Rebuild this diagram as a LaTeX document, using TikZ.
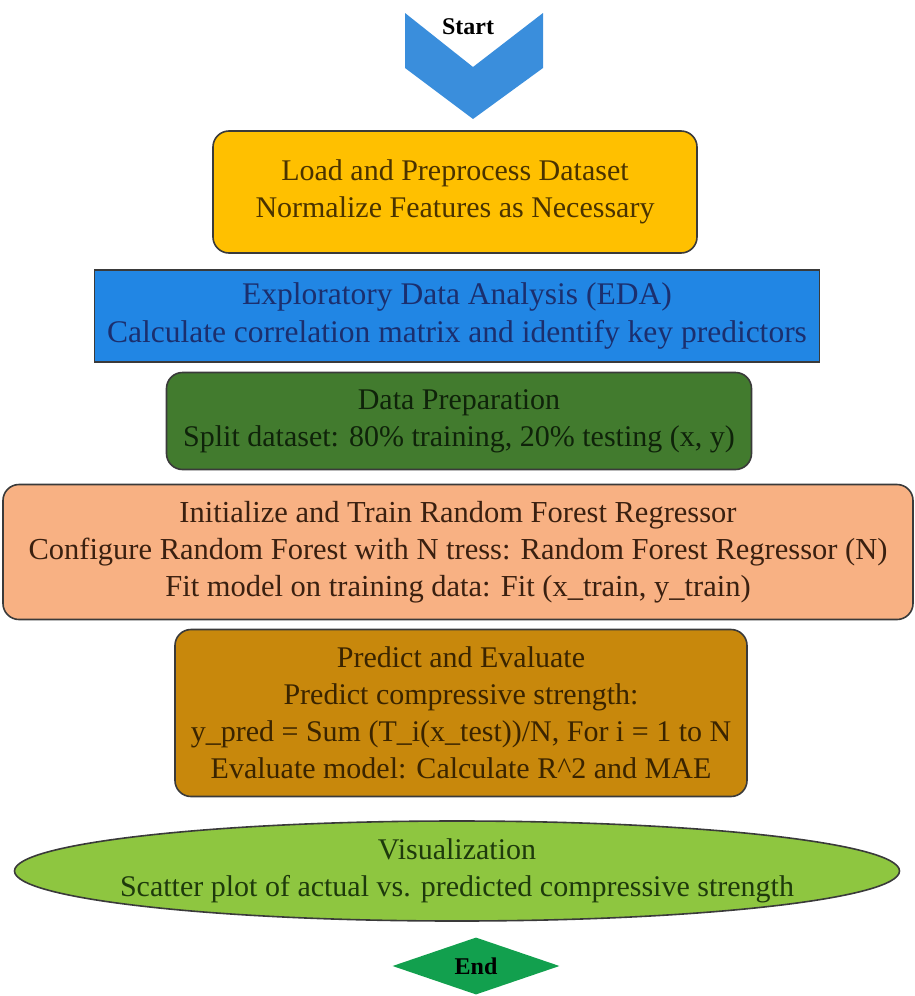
\documentclass[tikz,border=0pt]{standalone}
\usepackage{fontspec}
\setmainfont{Liberation Serif}
\usetikzlibrary{shapes.geometric}
\definecolor{cyel}{HTML}{FFC000}
\definecolor{cblue}{HTML}{2186E4}
\definecolor{cdkg}{HTML}{427B2E}
\definecolor{cpeach}{HTML}{F8B183}
\definecolor{cbrown}{HTML}{C8880C}
\definecolor{clgreen}{HTML}{8EC640}
\definecolor{cend}{HTML}{12A04E}
\definecolor{cchev}{HTML}{3A8EDC}
\definecolor{cline}{HTML}{3A3A3A}
\definecolor{tyel}{HTML}{4A3300}
\definecolor{tblue}{HTML}{1B2F6E}
\definecolor{tgreen}{HTML}{0F230A}
\definecolor{tpeach}{HTML}{3A2010}
\definecolor{tbrown}{HTML}{3A2400}
\definecolor{tlg}{HTML}{1E3A0C}
\tikzset{
  box/.style={draw=cline, line width=1.6pt, align=center, font=\fontsize{30}{37}\selectfont, inner sep=0pt},
  rbox/.style={box, rounded corners=16pt},
  label text/.style={align=center, font=\fontsize{30}{37}\selectfont, inner sep=0pt},
}
\begin{document}
\begin{tikzpicture}[x=1pt,y=-1pt]
\useasboundingbox (0,0) rectangle (914,996);
% Start chevron
\fill[cchev] (405,13) -- (473,67) -- (543,13) -- (543,68) -- (473,119) -- (405,68) -- cycle;
\node[font=\fontsize{24}{26}\selectfont\bfseries] (start) at (468,27) {Start};
% boxes
\node[rbox, fill=cyel, text=tyel, minimum width=484pt, minimum height=122pt] (load) at (455,192)
  {Load and Preprocess Dataset\\Normalize Features as Necessary};
\node[box, fill=cblue, text=tblue, font=\fontsize{31.5}{38}\selectfont, minimum width=725pt, minimum height=92pt] (eda) at (457,316)
  {Exploratory Data Analysis (EDA)\\Calculate correlation matrix and identify key predictors};
\node[rbox, fill=cdkg, text=tgreen, minimum width=585pt, minimum height=97pt] (prep) at (459,421)
  {Data Preparation\\Split dataset: 80\% training, 20\% testing (x, y)};
\node[rbox, fill=cpeach, text=tpeach, font=\fontsize{30.5}{37}\selectfont, minimum width=910pt, minimum height=135pt] (train) at (458,552)
  {Initialize and Train Random Forest Regressor\\Configure Random Forest with N tress: Random Forest Regressor (N)\\Fit model on training data: Fit (x\_train, y\_train)};
\node[rbox, fill=cbrown, text=tbrown, minimum width=572pt, minimum height=167pt] (pred) at (461,713)
  {Predict and Evaluate\\Predict compressive strength:\\y\_pred = Sum (T\_i(x\_test))/N, For i = 1 to N\\Evaluate model: Calculate R\^{}2 and MAE};
\node[draw=cline, line width=1.6pt, ellipse, fill=clgreen, minimum width=885pt, minimum height=100pt, inner sep=0pt] (vis) at (457,871) {};
\node[label text, text=tlg] (vistext) at (vis.center)
  {Visualization\\Scatter plot of actual vs. predicted compressive strength};
\node[diamond, fill=cend, aspect=2.9, minimum width=167pt, minimum height=57pt, inner sep=0pt, font=\fontsize{24}{26}\selectfont\bfseries] (end) at (476,966) {End};
\end{tikzpicture}
\end{document}
